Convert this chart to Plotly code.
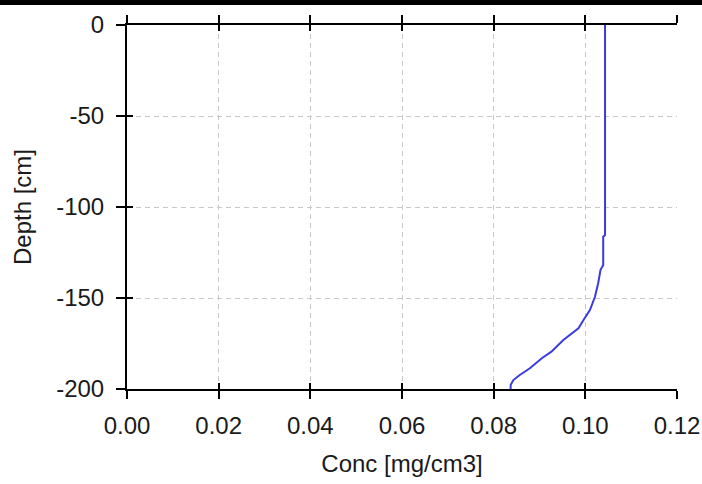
import plotly.graph_objects as go

# Data
depth = [0, -115.4, -116.3, -131.9, -134.6, -141.9, -149.3, -156.6, -162.1, -166.6,
         -173.1, -179.5, -183.1, -188.6, -192.3, -195.1, -197.8, -200]
conc = [0.1043, 0.1043, 0.1039, 0.1039, 0.1033, 0.1028, 0.1021, 0.1010, 0.0996, 0.0985,
        0.0952, 0.0926, 0.0905, 0.0879, 0.0857, 0.0843, 0.0837, 0.0837]

x_ticks = [0.00, 0.02, 0.04, 0.06, 0.08, 0.10, 0.12]
x_labels = ["0.00", "0.02", "0.04", "0.06", "0.08", "0.10", "0.12"]
y_ticks = [0, -50, -100, -150, -200]
y_labels = ["0", "-50", "-100", "-150", "-200"]
x_title = "Conc [mg/cm3]"
y_title = "Depth [cm]"

FONT = "Liberation Sans, Arial, sans-serif"

fig = go.Figure()
fig.add_trace(go.Scatter(x=conc, y=depth, mode="lines",
                         line=dict(color="#3b3be0", width=2), showlegend=False,
                         hoverinfo="skip"))
# invisible trace to activate overlay axes (crossing tick marks)
fig.add_trace(go.Scatter(x=[x_ticks[0]], y=[y_ticks[0]], xaxis="x2", yaxis="y2",
                         mode="markers", marker=dict(opacity=0), showlegend=False,
                         hoverinfo="skip"))

grid = dict(showgrid=True, gridcolor="#c8c8c8", gridwidth=1, griddash="5px,4px",
            zeroline=False)

fig.update_layout(
    width=702, height=484,
    margin=dict(l=127, r=25, t=25, b=95, autoexpand=False),
    paper_bgcolor="white", plot_bgcolor="white",
    font=dict(family=FONT, size=24, color="#1a1a1a"),
    xaxis=dict(range=[0, 0.12], tickvals=x_ticks, ticktext=x_labels,
               showline=True, linecolor="black", linewidth=2,
               ticks="outside", ticklen=8, tickwidth=2, tickcolor="black",
               mirror="ticks", ticklabelstandoff=6, automargin=False,
               title=dict(text=x_title, font=dict(size=24), standoff=17),
               **grid),
    yaxis=dict(range=[-200, 0], tickvals=y_ticks, ticktext=y_labels,
               showline=True, linecolor="black", linewidth=2,
               ticks="outside", ticklen=9, tickwidth=2, tickcolor="black",
               mirror=False, ticklabelstandoff=7, automargin=False,
               title=dict(text=y_title, font=dict(size=24), standoff=18),
               **grid),
    xaxis2=dict(overlaying="x", matches="x", range=[0, 0.12], tickvals=x_ticks,
                showticklabels=False, showgrid=False, zeroline=False, showline=False,
                ticks="inside", ticklen=6, tickwidth=2, tickcolor="black",
                mirror="ticks", anchor="y2", automargin=False),
    yaxis2=dict(overlaying="y", matches="y", range=[-200, 0], tickvals=y_ticks,
                showticklabels=False, showgrid=False, zeroline=False, showline=False,
                ticks="inside", ticklen=6, tickwidth=2, tickcolor="black",
                anchor="x2", automargin=False),
    shapes=[dict(type="rect", xref="paper", yref="paper", x0=-0.3, x1=1.1,
                 y0=1.0549, y1=1.08, fillcolor="black", line=dict(width=0),
                 layer="above")],
)

fig.write_html("out.html",
               config={"displayModeBar": False},
               post_script="document.body.style.margin='0';document.body.style.overflow='hidden';")
